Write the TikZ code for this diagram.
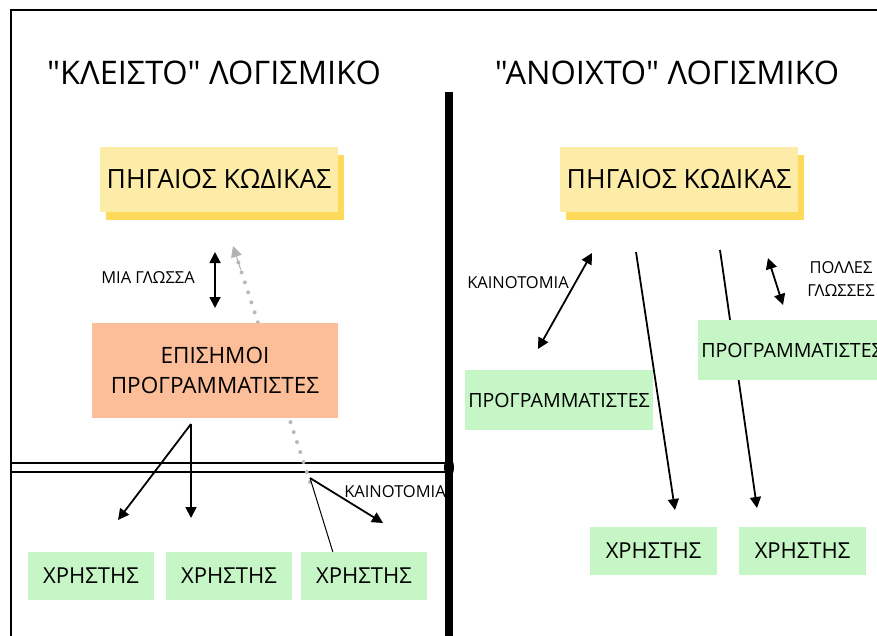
\documentclass[tikz,border=0pt]{standalone}
\usepackage{fontspec}
\setmainfont{Open Sans}
\newfontfamily\titlefont{Open Sans}
\usetikzlibrary{positioning,arrows.meta,shadows,calc}

\definecolor{codefront}{HTML}{FDEBA8}
\definecolor{codeback}{HTML}{FDD95C}
\definecolor{officialfill}{HTML}{FCBE98}
\definecolor{userfill}{HTML}{C6F6C6}

\begin{document}
\begin{tikzpicture}[x=1pt,y=-1pt,
  title/.style={font=\titlefont\fontsize{32.5}{36}\selectfont},
  codebox/.style={fill=codefront, minimum width=238pt, minimum height=65pt,
    font=\fontsize{26.5}{30}\selectfont,
    drop shadow={shadow xshift=6pt,shadow yshift=-8pt,fill=codeback,opacity=1}},
  userbox/.style={fill=userfill, minimum width=126pt, minimum height=48pt, font=\fontsize{22}{26}\selectfont},
  progbox/.style={fill=userfill, minimum width=188pt, minimum height=60pt, inner sep=0pt, font=\fontsize{19.6}{24}\selectfont},
  small/.style={font=\fontsize{16.5}{23}\selectfont},
  arr/.style={line width=1.8pt, -{Triangle[length=11pt,width=11pt]}},
  darr/.style={line width=1.8pt, {Triangle[length=11pt,width=11pt]}-{Triangle[length=11pt,width=11pt]}}]

\useasboundingbox (0,0) rectangle (877,635);
\clip (0,0) rectangle (877,635);

% Frame and dividers
\draw[line width=2.2pt] (11,640) -- (11,10) -- (880,10);
\draw[line width=8pt] (449,92) -- (449,640);
\draw[line width=2.5pt] (11,463) -- (449,463);
\draw[line width=2.5pt] (11,472) -- (449,472);
\fill (449,467.5) ellipse [x radius=5pt, y radius=10pt];

% Titles
\node[title] (ctitle) at (214,73) {"ΚΛΕΙΣΤΟ" ΛΟΓΙΣΜΙΚΟ};
\node[title] (otitle) at (667,73) {"ΑΝΟΙΧΤΟ" ΛΟΓΙΣΜΙΚΟ};

% Closed software
\node[codebox] (ccode) at (219,179.5) {ΠΗΓΑΙΟΣ ΚΩΔΙΚΑΣ};

\coordinate (cback) at (310,482);
\coordinate (ctip) at (233,246);
\draw[line width=4pt, gray!55, line cap=round, dash pattern=on 0pt off 10.5pt] (cback) -- ($(cback)!0.95!(ctip)$);
\draw[line width=1pt, gray!60, -{Triangle[length=11pt,width=11pt]}] ($(cback)!0.9!(ctip)$) -- (ctip);

\node[fill=officialfill, minimum width=246pt, minimum height=95pt, align=center,
  font=\fontsize{22.5}{30}\selectfont] (official) at (215,370.5) {ΕΠΙΣΗΜΟΙ\\ΠΡΟΓΡΑΜΜΑΤΙΣΤΕΣ};

\coordinate (miatop) at (215,252);
\coordinate (miabot) at (215,308);
\draw[darr] (miatop) -- (miabot);
\node[small] (mia) at (148,278) {ΜΙΑ ΓΛΩΣΣΑ};

\node[userbox] (cuser1) at (91,576) {ΧΡΗΣΤΗΣ};
\node[userbox] (cuser2) at (229,576) {ΧΡΗΣΤΗΣ};
\node[userbox] (cuser3) at (364,576) {ΧΡΗΣΤΗΣ};

\coordinate (cfork) at (191,424);
\coordinate (cend1) at (118,520);
\coordinate (cend2) at (191,518);
\draw[arr] (cfork) -- (cend1);
\draw[arr] (cfork) -- (cend2);

\coordinate (cinno) at (310,478);
\coordinate (cinnoend) at (383,523);
\draw[arr] (cinno) -- (cinnoend);
\draw[line width=1pt] (cinno) -- ($(cuser3.north west)+(32,0)$);
\node[small] (cinnolabel) at (395,492) {ΚΑΙΝΟΤΟΜΙΑ};

% Open software
\node[codebox] (ocode) at (679,179.5) {ΠΗΓΑΙΟΣ ΚΩΔΙΚΑΣ};

\node[progbox] (oprog1) at (559,400) {ΠΡΟΓΡΑΜΜΑΤΙΣΤΕΣ};

\coordinate (oinnotop) at (592,253);
\coordinate (oinnobot) at (538,349);
\draw[darr] (oinnotop) -- (oinnobot);
\node[small] (oinnolabel) at (518,283) {ΚΑΙΝΟΤΟΜΙΑ};

\coordinate (ostart1) at (636,252);
\coordinate (ostart2) at (720,250);
\draw[arr] (ostart1) -- (675,510) coordinate (oend1);
\draw[arr] (ostart2) -- (757,508) coordinate (oend2);

\node[progbox] (oprog2) at (792,350) {ΠΡΟΓΡΑΜΜΑΤΙΣΤΕΣ};

\coordinate (polltop) at (768,258);
\coordinate (pollbot) at (783,305);
\draw[darr] (polltop) -- (pollbot);
\node[small, align=center] (polllabel) at (841,279) {ΠΟΛΛΕΣ\\ΓΛΩΣΣΕΣ};

\node[userbox, minimum width=127pt] (ouser1) at (653.5,551) {ΧΡΗΣΤΗΣ};
\node[userbox, minimum width=127pt] (ouser2) at (802.5,551) {ΧΡΗΣΤΗΣ};
\end{tikzpicture}
\end{document}
